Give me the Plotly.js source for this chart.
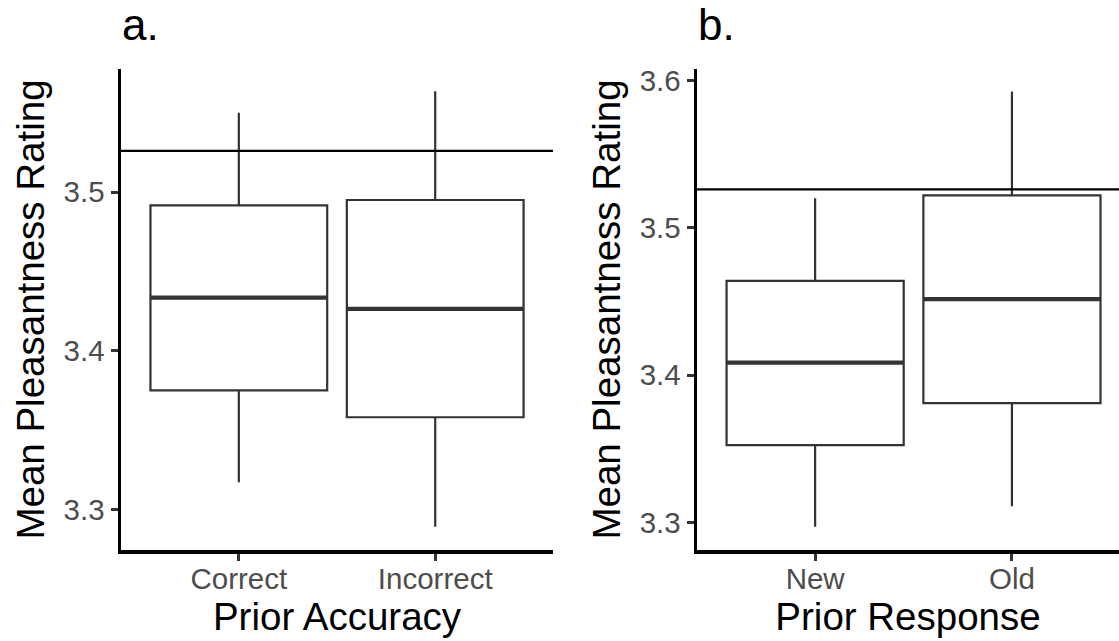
<!DOCTYPE html>
<html>
<head>
<meta charset="utf-8">
<script src="https://cdn.plot.ly/plotly-3.0.1.min.js"></script>
<style>
  html, body { margin: 0; padding: 0; background: #ffffff; }
  #chart { width: 1119px; height: 641px; }
</style>
</head>
<body>
<div id="chart"></div>
<script>
// ---------- Data ----------
const accuracyCategories = ["Correct", "Incorrect"];
const accuracyLower  = [3.317, 3.289];
const accuracyQ1     = [3.375, 3.358];
const accuracyMedian = [3.4335, 3.4263];
const accuracyQ3     = [3.4916, 3.495];
const accuracyUpper  = [3.550, 3.5635];

const responseCategories = ["New", "Old"];
const responseLower  = [3.297, 3.311];
const responseQ1     = [3.3525, 3.381];
const responseMedian = [3.4085, 3.4516];
const responseQ3     = [3.4639, 3.522];
const responseUpper  = [3.520, 3.5925];

const grandMean = 3.526;

const panelTitles = ["a.", "b."];
const xTitles = ["Prior Accuracy", "Prior Response"];
const yTitle = "Mean Pleasantness Rating";

// ---------- Style ----------
const FONT = "Liberation Sans, Arial, Helvetica, sans-serif";
const BOX_WIDTH = 0.9;
const BOX_LINE = "#333333";

function idx(arr) { return arr.map((_, i) => i); }

function boxTrace(cats, lo, q1, med, q3, hi, xa, ya) {
  return {
    type: "box",
    x: idx(cats),
    lowerfence: lo, q1: q1, median: med, q3: q3, upperfence: hi,
    width: BOX_WIDTH,
    whiskerwidth: 0,
    boxpoints: false,
    fillcolor: "#ffffff",
    line: { color: BOX_LINE, width: 2.2 },
    xaxis: xa, yaxis: ya,
    showlegend: false,
    hoverinfo: "skip"
  };
}

function medianTrace(cats, med, xa, ya) {
  const xs = [], ys = [];
  cats.forEach((c, i) => {
    xs.push(i - BOX_WIDTH / 2, i + BOX_WIDTH / 2, null);
    ys.push(med[i], med[i], null);
  });
  return {
    type: "scatter", mode: "lines",
    x: xs, y: ys,
    line: { color: BOX_LINE, width: 4.2 },
    xaxis: xa, yaxis: ya,
    showlegend: false, hoverinfo: "skip"
  };
}

const data = [
  boxTrace(accuracyCategories, accuracyLower, accuracyQ1, accuracyMedian, accuracyQ3, accuracyUpper, "x", "y"),
  medianTrace(accuracyCategories, accuracyMedian, "x", "y"),
  boxTrace(responseCategories, responseLower, responseQ1, responseMedian, responseQ3, responseUpper, "x2", "y2"),
  medianTrace(responseCategories, responseMedian, "x2", "y2")
];

const tickFont = { family: FONT, size: 29.5, color: "#4D4D4D" };
const titleFont = { family: FONT, size: 38.5, color: "#000000" };

function xAxis(cats, domain, range, title) {
  return {
    domain: domain, range: range, type: "linear",
    tickvals: idx(cats), ticktext: cats,
    showline: true, linecolor: "#000000", linewidth: 3.5,
    ticks: "outside", ticklen: 7, tickwidth: 3, tickcolor: "#333333",
    ticklabelstandoff: -7,
    showgrid: false, zeroline: false,
    tickfont: tickFont,
    title: { text: title, font: titleFont, standoff: 2 },
    fixedrange: true
  };
}
function yAxis(range, anchor) {
  return {
    domain: [0, 1], range: range, anchor: anchor,
    dtick: 0.1, tick0: 3.0, tickformat: ".1f",
    showline: true, linecolor: "#000000", linewidth: 3.5,
    ticks: "outside", ticklen: 7, tickwidth: 3, tickcolor: "#333333",
    showgrid: false, zeroline: false,
    tickfont: tickFont,
    title: { text: yTitle, font: titleFont, standoff: 8 },
    fixedrange: true
  };
}

const layout = {
  width: 1119, height: 641,
  margin: { l: 121, r: 0, t: 69, b: 91 },
  paper_bgcolor: "#ffffff", plot_bgcolor: "#ffffff",
  font: { family: FONT },
  xaxis: Object.assign(xAxis(accuracyCategories, [0, 0.4329], [-0.6, 1.6], xTitles[0]), { anchor: "y" }),
  yaxis: yAxis([3.2743, 3.5776], "x"),
  xaxis2: Object.assign(xAxis(responseCategories, [0.5772, 1], [-0.6, 1.544], xTitles[1]), { anchor: "y2" }),
  yaxis2: yAxis([3.2813, 3.6077], "x2"),
  shapes: [
    { type: "line", xref: "x domain", yref: "y", x0: 0, x1: 1, y0: grandMean, y1: grandMean,
      line: { color: "#000000", width: 2.4 }, layer: "above" },
    { type: "line", xref: "x2 domain", yref: "y2", x0: 0, x1: 1, y0: grandMean, y1: grandMean,
      line: { color: "#000000", width: 2.4 }, layer: "above" }
  ],
  annotations: [
    { text: panelTitles[0], xref: "paper", yref: "paper", x: -0.001, y: 1.093,
      xanchor: "left", yanchor: "middle", showarrow: false,
      font: { family: FONT, size: 44, color: "#000000" } },
    { text: panelTitles[1], xref: "paper", yref: "paper", x: 0.5762, y: 1.093,
      xanchor: "left", yanchor: "middle", showarrow: false,
      font: { family: FONT, size: 44, color: "#000000" } }
  ]
};

Plotly.newPlot("chart", data, layout, { displayModeBar: false, staticPlot: true });
</script>
</body>
</html>
